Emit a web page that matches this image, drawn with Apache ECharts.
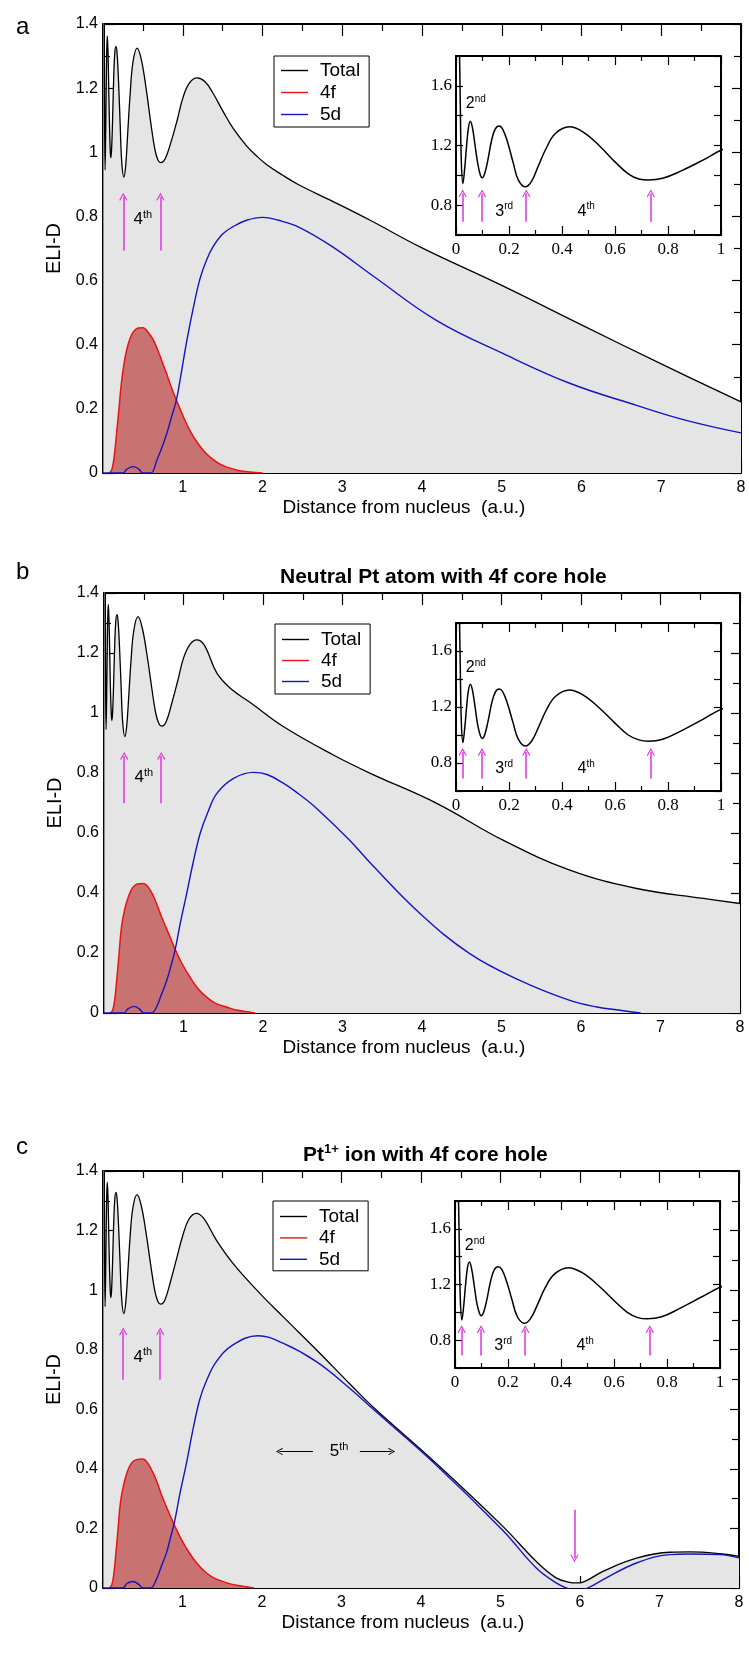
<!DOCTYPE html>
<html><head><meta charset="utf-8">
<script src="https://cdn.jsdelivr.net/npm/echarts@6/dist/echarts.min.js"></script>
<style>html,body{margin:0;padding:0;background:#fff}#c{width:749px;height:1672px}</style>
</head><body><div id="c"></div>
<script>
// ---------------- data ----------------
const legendNames = ['Total', '4f', '5d'];
const panelLetters = ['a', 'b', 'c'];
const titleB = 'Neutral Pt atom with 4f core hole';
const titleC = ['Pt', '1+', ' ion with 4f core hole'];
const xAxisTitle = 'Distance from nucleus  (a.u.)';
const yAxisTitle = 'ELI-D';
const insetYLabels = [0.8, 1.2, 1.6];

const totalA = [[0.005,2.5],[0.012,1.95],[0.016,1.5],[0.02,1.1],[0.026,0.945],[0.033,1.05],[0.04,1.2],[0.047,1.32],[0.054,1.363],[0.062,1.32],[0.072,1.2],[0.082,1.08],[0.092,1.0],[0.099,0.983],[0.108,1.01],[0.12,1.1],[0.135,1.24],[0.148,1.31],[0.162,1.33],[0.176,1.31],[0.195,1.22],[0.215,1.09],[0.235,0.97],[0.262,0.923],[0.285,0.96],[0.31,1.06],[0.34,1.18],[0.375,1.28],[0.428,1.325],[0.48,1.29],[0.54,1.2],[0.6,1.09],[0.65,1.01],[0.69,0.975],[0.726,0.968],[0.78,0.98],[0.85,1.03],[0.93,1.1],[1.0,1.168],[1.08,1.215],[1.18,1.232],[1.28,1.22],[1.38,1.184],[1.5,1.13],[1.63,1.075],[1.8,1.02],[1.92,0.99],[2.05,0.962],[2.25,0.929],[2.46,0.898],[2.88,0.847],[3.35,0.788],[4.0,0.702],[5.0,0.585],[6.0,0.462],[7.0,0.34],[8.0,0.222]];
const f4A = [[0.08,0],[0.11,0.01],[0.14,0.05],[0.17,0.123],[0.2,0.2],[0.23,0.279],[0.26,0.335],[0.296,0.383],[0.34,0.42],[0.38,0.44],[0.44,0.452],[0.504,0.453],[0.56,0.44],[0.62,0.42],[0.67,0.393],[0.73,0.355],[0.796,0.31],[0.86,0.265],[0.92,0.227],[1.0,0.18],[1.088,0.133],[1.19,0.092],[1.296,0.06],[1.42,0.035],[1.546,0.019],[1.7,0.008],[1.84,0.003],[2.0,0]];
const d5A = [[0,0],[0.25,0],[0.3,0.012],[0.38,0.02],[0.45,0.012],[0.5,0],[0.6,0],[0.675,0.04],[0.74,0.08],[0.8,0.123],[0.86,0.175],[0.92,0.227],[0.98,0.31],[1.045,0.404],[1.12,0.5],[1.21,0.6],[1.3,0.665],[1.379,0.705],[1.5,0.745],[1.63,0.768],[1.8,0.788],[2.0,0.797],[2.2,0.788],[2.46,0.766],[2.88,0.705],[3.4,0.612],[4.18,0.476],[5.02,0.372],[5.86,0.279],[6.69,0.211],[7.3,0.165],[8.0,0.125]];

const totalB = [[0.005,2.5],[0.012,1.95],[0.016,1.5],[0.02,1.1],[0.026,0.945],[0.033,1.05],[0.04,1.2],[0.047,1.32],[0.054,1.362],[0.062,1.32],[0.072,1.2],[0.082,1.07],[0.092,0.995],[0.099,0.975],[0.108,1.0],[0.12,1.09],[0.135,1.23],[0.148,1.305],[0.162,1.328],[0.176,1.31],[0.195,1.22],[0.215,1.09],[0.235,0.97],[0.262,0.921],[0.285,0.955],[0.31,1.05],[0.34,1.175],[0.375,1.275],[0.428,1.321],[0.48,1.285],[0.54,1.195],[0.6,1.085],[0.65,1.0],[0.69,0.965],[0.726,0.956],[0.78,0.97],[0.85,1.03],[0.93,1.11],[1.0,1.183],[1.08,1.228],[1.166,1.244],[1.26,1.227],[1.42,1.133],[1.6,1.08],[1.84,1.035],[2.255,0.955],[2.885,0.86],[3.35,0.799],[4.185,0.699],[5.02,0.576],[5.86,0.476],[6.7,0.415],[7.54,0.382],[8.0,0.365]];
const f4B = [[0.08,0],[0.11,0.01],[0.135,0.045],[0.16,0.109],[0.19,0.2],[0.22,0.287],[0.26,0.345],[0.306,0.387],[0.36,0.418],[0.42,0.43],[0.494,0.432],[0.56,0.418],[0.62,0.39],[0.66,0.365],[0.74,0.31],[0.83,0.254],[0.9,0.209],[0.98,0.165],[1.08,0.12],[1.18,0.082],[1.29,0.053],[1.4,0.033],[1.54,0.02],[1.68,0.009],[1.83,0.003],[1.9,0]];
const d5B = [[0,0],[0.25,0],[0.3,0.014],[0.38,0.022],[0.45,0.012],[0.5,0],[0.6,0],[0.66,0.02],[0.72,0.06],[0.79,0.109],[0.84,0.155],[0.893,0.209],[0.96,0.3],[1.04,0.398],[1.12,0.5],[1.21,0.599],[1.3,0.665],[1.42,0.732],[1.63,0.782],[1.88,0.802],[2.05,0.795],[2.255,0.766],[2.45,0.73],[2.675,0.682],[3.09,0.576],[3.35,0.5],[3.975,0.332],[4.6,0.198],[5.23,0.109],[5.86,0.042],[6.2,0.02],[6.49,0.009],[6.75,0]];

const totalC = [[0.005,2.5],[0.012,1.95],[0.016,1.5],[0.02,1.1],[0.026,0.945],[0.033,1.05],[0.04,1.2],[0.047,1.32],[0.054,1.362],[0.062,1.32],[0.072,1.2],[0.082,1.07],[0.092,0.995],[0.099,0.975],[0.108,1.0],[0.12,1.09],[0.135,1.23],[0.148,1.305],[0.162,1.328],[0.176,1.31],[0.195,1.22],[0.215,1.09],[0.235,0.97],[0.262,0.921],[0.285,0.955],[0.31,1.05],[0.34,1.175],[0.375,1.275],[0.428,1.321],[0.48,1.285],[0.54,1.195],[0.6,1.085],[0.65,1.0],[0.69,0.962],[0.726,0.953],[0.78,0.968],[0.85,1.03],[0.93,1.11],[1.0,1.18],[1.08,1.238],[1.175,1.258],[1.27,1.24],[1.426,1.168],[1.635,1.09],[1.97,0.99],[2.264,0.911],[2.684,0.8],[3.106,0.685],[3.4,0.607],[4.19,0.419],[5.03,0.207],[5.45,0.089],[5.7,0.034],[5.87,0.019],[5.95,0.017],[6.04,0.02],[6.29,0.056],[6.71,0.1],[7.13,0.12],[7.38,0.121],[7.76,0.115],[8.0,0.106]];
const f4C = [[0.08,0],[0.11,0.01],[0.135,0.045],[0.16,0.11],[0.19,0.2],[0.22,0.288],[0.26,0.347],[0.306,0.39],[0.36,0.42],[0.42,0.431],[0.5,0.433],[0.56,0.42],[0.62,0.392],[0.67,0.362],[0.74,0.31],[0.83,0.252],[0.9,0.21],[0.98,0.166],[1.08,0.12],[1.18,0.083],[1.29,0.053],[1.4,0.033],[1.54,0.019],[1.68,0.009],[1.83,0.003],[1.9,0]];
const d5C = [[0,0],[0.25,0],[0.3,0.015],[0.38,0.022],[0.45,0.012],[0.5,0],[0.6,0],[0.67,0.028],[0.73,0.07],[0.797,0.117],[0.85,0.17],[0.9,0.223],[0.97,0.32],[1.05,0.419],[1.13,0.53],[1.216,0.632],[1.3,0.695],[1.426,0.76],[1.635,0.816],[1.95,0.847],[2.264,0.822],[2.684,0.76],[3.106,0.67],[3.4,0.6],[4.19,0.413],[5.03,0.193],[5.45,0.067],[5.7,0.017],[5.83,0],[5.95,-0.01],[6.12,0.003],[6.29,0.028],[6.71,0.084],[7.13,0.112],[7.38,0.114],[7.76,0.112],[8.0,0.101]];

// annotations (data units): [x0, y0, x1, y1]
const arrowsMainA = [[0.254,0.694,0.254,0.861],[0.72,0.694,0.72,0.861]];
const arrowsMainB = [[0.254,0.699,0.254,0.857],[0.72,0.699,0.72,0.857]];
const arrowsMainC = [[0.254,0.699,0.254,0.861],[0.72,0.699,0.72,0.861]];
const arrowsInset = [[0.025,0.689,0.025,0.878],[0.098,0.689,0.098,0.878],[0.265,0.689,0.265,0.878],[0.735,0.689,0.735,0.878]];
const arrowsFifth = [[2.64,0.458,2.22,0.458],[3.23,0.458,3.63,0.458]];
const arrowDownC = [[5.93,0.263,5.93,0.1]];
// text annotations: [main, superscript, x, y]
const labelMainA = [['4','th',0.5,0.79]];
const labelMainB = [['4','th',0.5,0.785]];
const labelMainC = [['4','th',0.5,0.774]];
const labelsInset = [['2','nd',0.075,1.48],['3','rd',0.182,0.76],['4','th',0.491,0.76]];
const labelFifth = [['5','th',2.97,0.458]];

// ---------------- styling / layout ----------------
const SANS = '"Liberation Sans", Arial, Helvetica, sans-serif';
const SERIF = '"Liberation Serif", "Times New Roman", serif';
const MAGENTA = '#e030e0';
const ARROW = 'path://M5,0 L10,9 L9,10 L5,2.6 L1,10 L0,9 Z';

const layouts = [
  {main:{left:103,top:24,width:638,height:449}, inset:{left:456,top:56,width:265,height:179},
   legend:{left:274,top:56,padding:[5,9,3,7],itemGap:3,lh:19}, letterTop:10},
  {main:{left:104,top:593,width:636,height:420}, inset:{left:456,top:623,width:265,height:168},
   legend:{left:275,top:624,padding:[6,9,3,7],itemGap:2,lh:18}, letterTop:555},
  {main:{left:103,top:1171,width:636,height:417}, inset:{left:455,top:1201,width:265,height:167},
   legend:{left:273,top:1201,padding:[6,9,2,7],itemGap:2.4,lh:18}, letterTop:1130}
];

const panelData = [
  {total:totalA, f4:f4A, d5:d5A, arrows:arrowsMainA, labels:labelMainA, extraBlack:[], extraLabels:[]},
  {total:totalB, f4:f4B, d5:d5B, arrows:arrowsMainB, labels:labelMainB, extraBlack:[], extraLabels:[]},
  {total:totalC, f4:f4C, d5:d5C, arrows:arrowsMainC.concat(arrowDownC), labels:labelMainC, extraBlack:arrowsFifth, extraLabels:labelFifth}
];

function tick(len){ return {show:true, inside:true, length:len, lineStyle:{color:'#000', width:1.2}}; }
const axisLine = {show:true, onZero:false, lineStyle:{color:'#000', width:2}};

function arrowMark(list, color, width, size){
  return {silent:true, symbol:['none', ARROW], symbolSize:size, label:{show:false},
    lineStyle:{color:color, width:width, type:'solid'}, emphasis:{disabled:true}, animation:false,
    data:list.map(a => [{coord:[a[0],a[1]], symbol:'none'}, {coord:[a[2],a[3]], symbol:ARROW}])};
}
function textMark(list, big, small){
  return {silent:true, symbol:'rect', symbolSize:1, itemStyle:{color:'rgba(0,0,0,0)'}, animation:false,
    data:list.map(t => ({coord:[t[2],t[3]], label:{show:true, position:'inside', color:'#000',
      formatter:'{n|' + t[0] + '}{s|' + t[1] + '}',
      rich:{n:{fontFamily:SANS, fontSize:big, lineHeight:big, color:'#000'},
            s:{fontFamily:SANS, fontSize:small, lineHeight:small, padding:[0,0,small-1,0], color:'#000'}}}}))};
}

const grids = [], xAxes = [], yAxes = [], series = [], legends = [], titles = [];

layouts.forEach((L, p) => {
  const D = panelData[p];
  const gm = grids.length;
  grids.push(Object.assign({show:false, containLabel:false, outerBoundsMode:'none'}, L.main));
  grids.push(Object.assign({show:false, containLabel:false, outerBoundsMode:'none'}, L.inset));
  const gi = gm + 1;
  const xi = xAxes.length, yi = yAxes.length;
  xAxes.push({type:'value', gridIndex:gm, position:'bottom', min:0, max:8, interval:1,
    axisLine, axisTick:tick(12), minorTick:{show:true, splitNumber:2, length:7, lineStyle:{color:'#000', width:1.2}},
    splitLine:{show:false}, minorSplitLine:{show:false},
    axisLabel:{show:true, margin:7, fontFamily:SANS, fontSize:16, color:'#000', formatter:v => v === 0 ? '' : String(v)},
    name:xAxisTitle, nameLocation:'middle', nameGap:25,
    nameTextStyle:{fontFamily:SANS, fontSize:19, color:'#000', padding:[0,36,0,0]}});
  xAxes.push({type:'value', gridIndex:gm, position:'top', min:0, max:8, interval:1,
    axisLine, axisTick:tick(12), minorTick:{show:true, splitNumber:2, length:7, lineStyle:{color:'#000', width:1.2}},
    splitLine:{show:false}, axisLabel:{show:false}});
  xAxes.push({type:'value', gridIndex:gi, position:'bottom', min:0, max:1, interval:0.2,
    axisLine, axisTick:tick(9), minorTick:{show:true, splitNumber:2, length:5, lineStyle:{color:'#000', width:1.2}},
    splitLine:{show:false}, axisLabel:{show:true, margin:6, fontFamily:SERIF, fontSize:17, color:'#000'}});
  xAxes.push({type:'value', gridIndex:gi, position:'top', min:0, max:1, interval:0.2,
    axisLine, axisTick:tick(9), minorTick:{show:true, splitNumber:2, length:5, lineStyle:{color:'#000', width:1.2}},
    splitLine:{show:false}, axisLabel:{show:false}});
  yAxes.push({type:'value', gridIndex:gm, position:'left', min:0, max:1.4, interval:0.2,
    axisLine, axisTick:tick(12), minorTick:{show:true, splitNumber:2, length:7, lineStyle:{color:'#000', width:1.2}},
    splitLine:{show:false}, minorSplitLine:{show:false},
    axisLabel:{show:true, margin:5, fontFamily:SANS, fontSize:16, color:'#000'},
    name:yAxisTitle, nameLocation:'middle', nameGap:36, nameRotate:90,
    nameTextStyle:{fontFamily:SANS, fontSize:20, color:'#000'}});
  yAxes.push({type:'value', gridIndex:gm, position:'right', min:0, max:1.4, interval:0.2,
    axisLine, axisTick:tick(9), minorTick:{show:true, splitNumber:2, length:7, lineStyle:{color:'#000', width:1.2}},
    splitLine:{show:false}, axisLabel:{show:false}});
  const insetFmt = v => insetYLabels.some(t => Math.abs(t - v) < 1e-6) ? String(v) : '';
  yAxes.push({type:'value', gridIndex:gi, position:'left', min:0.6, max:1.8, interval:0.2,
    axisLine, axisTick:tick(7), splitLine:{show:false},
    axisLabel:{show:true, margin:4, fontFamily:SERIF, fontSize:17, color:'#000', formatter:insetFmt}});
  yAxes.push({type:'value', gridIndex:gi, position:'right', min:0.6, max:1.8, interval:0.2,
    axisLine, axisTick:tick(7), splitLine:{show:false}, axisLabel:{show:false}});

  const common = {type:'line', symbol:'none', showSymbol:false, smooth:0.4,
    clip:true, silent:true, animation:false};
  series.push(Object.assign({}, common, {name:'Total', xAxisIndex:xi, yAxisIndex:yi, data:D.total, color:'#000',
    lineStyle:{color:'#000', width:1.3}, areaStyle:{color:'#e5e5e5', opacity:1, origin:'start'}, z:2,
    markLine:arrowMark(D.arrows, MAGENTA, 1.5, 8), markPoint:textMark(D.labels.concat(D.extraLabels), 17, 11)}));
  series.push(Object.assign({}, common, {name:'4f', xAxisIndex:xi, yAxisIndex:yi, data:D.f4, color:'#ee1111',
    lineStyle:{color:'#ee1111', width:1.5}, areaStyle:{color:'#c87272', opacity:1, origin:'start'}, z:3}));
  const d5 = Object.assign({}, common, {name:'5d', xAxisIndex:xi, yAxisIndex:yi, data:D.d5, color:'#1515c0',
    lineStyle:{color:'#1515c0', width:1.4}, z:4});
  if (D.extraBlack.length) d5.markLine = arrowMark(D.extraBlack, '#000', 1, 7);
  series.push(d5);
  series.push(Object.assign({}, common, {name:'inset' + p, xAxisIndex:xi + 2, yAxisIndex:yi + 2, data:D.total, color:'#000',
    lineStyle:{color:'#000', width:1.5}, z:5,
    markLine:arrowMark(arrowsInset, MAGENTA, 1.5, 8), markPoint:textMark(labelsInset, 16, 10)}));

  const LG = L.legend;
  legends.push({show:true, orient:'vertical', left:LG.left, top:LG.top, padding:LG.padding, itemGap:LG.itemGap,
    itemWidth:27, itemHeight:1.4, icon:'rect', selectedMode:false, backgroundColor:'#fff',
    borderColor:'#000', borderWidth:1, borderRadius:0,
    textStyle:{fontFamily:SANS, fontSize:19, lineHeight:LG.lh, color:'#000', padding:[0,0,0,7]},
    data:[{name:legendNames[0], itemStyle:{color:'#000'}}, {name:legendNames[1], itemStyle:{color:'#ee1111'}},
          {name:legendNames[2], itemStyle:{color:'#1515c0'}}]});

  titles.push({text:panelLetters[p], left:11, top:L.letterTop,
    textStyle:{fontFamily:SANS, fontSize:24, lineHeight:24, fontWeight:'normal', color:'#000'}});
});

titles.push({text:titleB, left:275, top:560,
  textStyle:{fontFamily:SANS, fontSize:21, lineHeight:24, fontWeight:'bold', color:'#000'}});
titles.push({text:'{b|' + titleC[0] + '}{s|' + titleC[1] + '}{b|' + titleC[2] + '}', left:298, top:1138,
  textStyle:{rich:{b:{fontFamily:SANS, fontSize:21, lineHeight:24, fontWeight:'bold', color:'#000'},
                   s:{fontFamily:SANS, fontSize:13, lineHeight:13, padding:[0,0,11,0], fontWeight:'bold', color:'#000'}}}});

const chart = echarts.init(document.getElementById('c'), null, {renderer:'canvas', width:749, height:1672});
chart.setOption({animation:false, backgroundColor:'#fff', title:titles, legend:legends, grid:grids,
  xAxis:xAxes, yAxis:yAxes, series:series, tooltip:{show:false}});
</script></body></html>
